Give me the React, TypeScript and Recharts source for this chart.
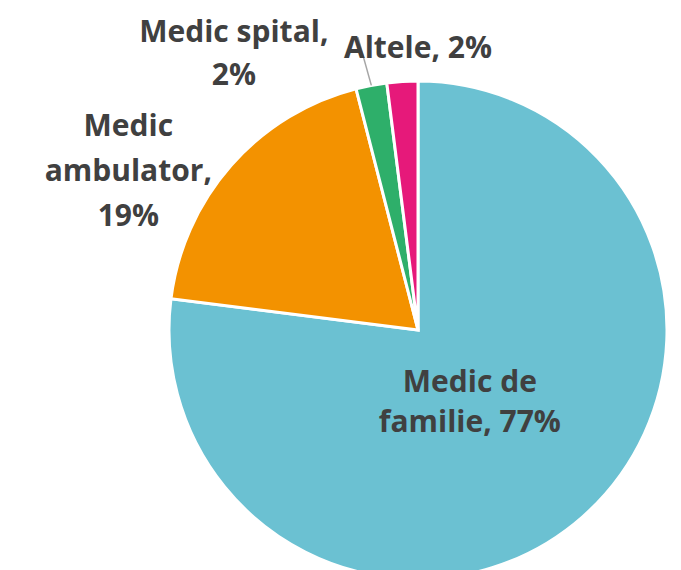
import React from 'react';
import { PieChart, Pie, Cell } from 'recharts';

const categories = ['Medic de familie', 'Medic ambulator', 'Medic spital', 'Altele'];
const shares = [77, 19, 2, 2];
const colors = ['#6BC1D2', '#F39200', '#2EAF6A', '#E6197A'];
// label text split into lines, as in the source chart
const labelLines = [
  ['Medic de', 'familie, 77%'],
  ['Medic', 'ambulator,', '19%'],
  ['Medic spital,', '2%'],
  ['Altele, 2%'],
];

const data = categories.map((name, i) => ({ name, value: shares[i] }));

// where each label sits: angle (deg), distance as a fraction of the radius, line height
const labelPlace = [
  { angle: -53.5, k: 0.35, lh: 40 },
  { angle: 151, k: 1.33, lh: 45 },
  { angle: 123.5, k: 1.34, lh: 43 },
  { angle: 90, k: 1.14, lh: 43 },
];

const RAD = Math.PI / 180;

const renderLabel = (p: any) => {
  const { cx, cy, outerRadius, midAngle, index } = p;
  const place = labelPlace[index];
  const x = cx + outerRadius * place.k * Math.cos(place.angle * RAD);
  const y = cy - outerRadius * place.k * Math.sin(place.angle * RAD);
  const lines = labelLines[index];
  const top = y - ((lines.length - 1) * place.lh) / 2;
  return (
    <g key={`lbl-${index}`}>
      {index === 2 && (
        <line
          x1={cx + outerRadius * Math.cos(midAngle * RAD)}
          y1={cy - outerRadius * Math.sin(midAngle * RAD)}
          x2={cx + outerRadius * 1.2 * Math.cos((midAngle + 0.8) * RAD)}
          y2={cy - outerRadius * 1.2 * Math.sin((midAngle + 0.8) * RAD)}
          stroke="#A6A6A6"
          strokeWidth={1.5}
        />
      )}
      <text
        x={x}
        y={top}
        textAnchor="middle"
        dominantBaseline="central"
        fill="#404040"
        fontFamily="'Open Sans', sans-serif"
        fontWeight={700}
        fontSize={30}
      >
        {lines.map((l, j) => (
          <tspan key={j} x={x} dy={j === 0 ? 0 : place.lh}>{l}</tspan>
        ))}
      </text>
    </g>
  );
};

export default function App() {
  return (
    <div style={{ position: 'absolute', left: 0, top: 0, width: 681, height: 570, background: '#fff', overflow: 'hidden' }}>
      <PieChart width={681} height={570} margin={{ top: 0, right: 0, bottom: 0, left: 0 }}>
        <Pie
          data={data}
          dataKey="value"
          nameKey="name"
          cx={418}
          cy={330}
          outerRadius={249}
          startAngle={90}
          endAngle={-270}
          stroke="#FFFFFF"
          strokeWidth={3}
          label={renderLabel}
          labelLine={false}
          isAnimationActive={false}
        >
          {data.map((d, i) => (
            <Cell key={d.name} fill={colors[i]} />
          ))}
        </Pie>
      </PieChart>
    </div>
  );
}
